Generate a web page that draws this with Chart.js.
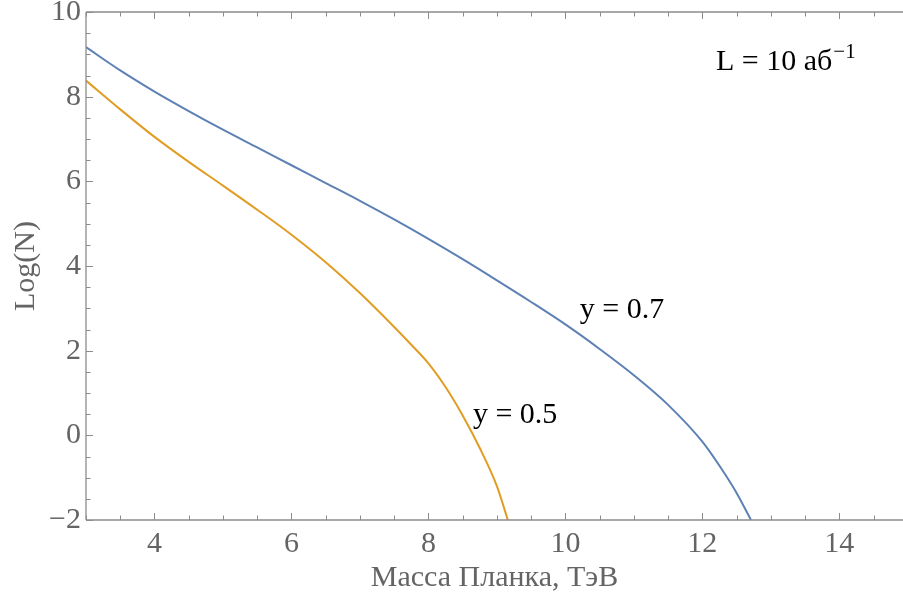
<!DOCTYPE html>
<html>
<head>
<meta charset="utf-8">
<script src="https://cdn.jsdelivr.net/npm/chart.js@4.4.1/dist/chart.umd.min.js"></script>
<style>
html,body{margin:0;padding:0;background:#fff;overflow:hidden;}
#wrap{width:903px;height:603px;position:relative;}
</style>
</head>
<body>
<div id="wrap"><canvas id="c" width="903" height="603"></canvas></div>
<script>
// Data
const blueX = [3, 3.5, 4, 4.5, 5, 5.5, 6, 6.5, 7, 7.5, 8, 8.5, 9, 9.5, 10, 10.5, 11, 11.5, 12, 12.25, 12.5, 12.71];
const blueY = [9.17, 8.62, 8.12, 7.66, 7.22, 6.8, 6.38, 5.96, 5.54, 5.1, 4.64, 4.16, 3.66, 3.15, 2.62, 2.04, 1.42, 0.72, -0.15, -0.72, -1.36, -2.0];
const orangeX = [3, 3.5, 4, 4.5, 5, 5.5, 6, 6.5, 7, 7.5, 7.75, 8, 8.25, 8.5, 8.75, 9, 9.16];
const orangeY = [8.38, 7.7, 7.05, 6.46, 5.9, 5.33, 4.74, 4.09, 3.36, 2.56, 2.14, 1.7, 1.14, 0.47, -0.3, -1.2, -2.0];
const xTicks = [4, 6, 8, 10, 12, 14];
const yTicks = [-2, 0, 2, 4, 6, 8, 10];
const xTitle = "Масса Планка, ТэВ";
const yTitle = "Log(N)";
const seriesLabels = ["y = 0.7", "y = 0.5"];

const FONT = "'Liberation Serif', 'DejaVu Serif', serif";
const AXIS = "#8c8c8c";
const TXT = "#646464";

function pts(xs, ys){ return xs.map((x,i)=>({x:x, y:ys[i]})); }

const framePlugin = {
  id: 'frame',
  afterDraw(chart){
    const ctx = chart.ctx, a = chart.chartArea;
    const xs = chart.scales.x, ys = chart.scales.y;
    ctx.save();
    ctx.strokeStyle = AXIS;
    ctx.lineWidth = 1.3;
    ctx.beginPath();
    ctx.moveTo(a.left, a.top); ctx.lineTo(a.left, a.bottom);
    ctx.moveTo(a.left, a.bottom); ctx.lineTo(a.right + 20, a.bottom);
    ctx.moveTo(a.left, a.top); ctx.lineTo(a.right + 20, a.top);
    ctx.stroke();
    ctx.lineWidth = 1;
    ctx.beginPath();
    for (let v = 3; v <= 15.001; v += 0.5) {
      const px = Math.round(xs.getPixelForValue(v)) + 0.5;
      const major = Math.abs(v/2 - Math.round(v/2)) < 1e-6;
      const L = major ? 7 : 4.5;
      ctx.moveTo(px, a.bottom); ctx.lineTo(px, a.bottom - L);
      ctx.moveTo(px, a.top); ctx.lineTo(px, a.top + L);
    }
    for (let v = -2; v <= 10.001; v += 0.5) {
      const py = Math.round(ys.getPixelForValue(v)) + 0.5;
      const major = Math.abs(v/2 - Math.round(v/2)) < 1e-6;
      const L = major ? 7 : 4.5;
      ctx.moveTo(a.left, py); ctx.lineTo(a.left + L, py);
    }
    ctx.stroke();

    // annotations
    ctx.fillStyle = "#000";
    ctx.textBaseline = "alphabetic";
    ctx.textAlign = "left";
    ctx.font = "30px " + FONT;
    ctx.fillText(seriesLabels[0], xs.getPixelForValue(10.21), ys.getPixelForValue(2.77));
    ctx.fillText(seriesLabels[1], xs.getPixelForValue(8.65), ys.getPixelForValue(0.29));
    const lx = xs.getPixelForValue(12.2), ly = ys.getPixelForValue(8.63);
    const main = "L = 10 аб";
    ctx.fillText(main, lx, ly);
    const w = ctx.measureText(main).width;
    ctx.font = "21px " + FONT;
    ctx.fillText("\u22121", lx + w + 1, ly - 12);
    ctx.restore();
  }
};

new Chart(document.getElementById('c'), {
  type: 'line',
  data: {
    datasets: [
      { data: pts(blueX, blueY), borderColor: '#5E81B5', borderWidth: 2, pointRadius: 0, cubicInterpolationMode: 'monotone', fill: false },
      { data: pts(orangeX, orangeY), borderColor: '#E19C24', borderWidth: 2, pointRadius: 0, cubicInterpolationMode: 'monotone', fill: false }
    ]
  },
  options: {
    responsive: false,
    animation: false,
    events: [],
    layout: { padding: { left: 0, right: 0, top: 12, bottom: 0 } },
    plugins: { legend: { display: false }, tooltip: { enabled: false } },
    scales: {
      x: {
        type: 'linear', min: 3, max: 14.93,
        grid: { display: false, drawTicks: false }, border: { display: false },
        afterBuildTicks: s => { s.ticks = xTicks.map(v => ({ value: v })); },
        ticks: { color: TXT, font: { family: FONT, size: 30 }, padding: 6, maxRotation: 0, autoSkip: false,
                 callback: v => String(v) },
        title: { display: true, text: xTitle, color: TXT, font: { family: FONT, size: 30 }, padding: { top: 0, bottom: 7 } },
        afterFit: s => { s.height = 83; s.paddingLeft = 0; s.paddingRight = 0; }
      },
      y: {
        type: 'linear', min: -2, max: 10,
        grid: { display: false, drawTicks: false }, border: { display: false },
        afterBuildTicks: s => { s.ticks = yTicks.map(v => ({ value: v })); },
        ticks: { color: TXT, font: { family: FONT, size: 30 }, padding: 5, autoSkip: false,
                 callback: v => (v < 0 ? '\u2212' + Math.abs(v) : String(v)) },
        title: { display: true, text: yTitle, color: TXT, font: { family: FONT, size: 30 }, padding: { top: 8, bottom: 0 } },
        afterFit: s => { s.width = 86; s.paddingTop = 0; s.paddingBottom = 0; }
      }
    }
  },
  plugins: [framePlugin]
});
</script>
</body>
</html>
